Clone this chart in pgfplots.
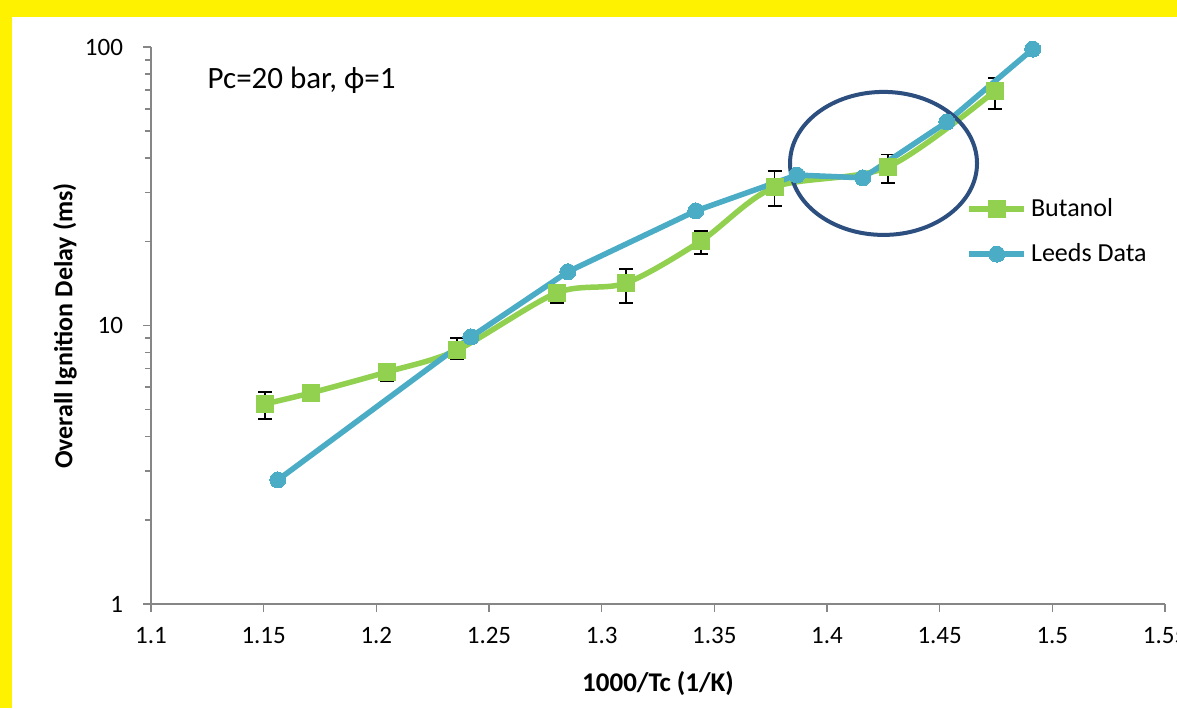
\documentclass[border=0pt]{standalone}
\usepackage{pgfplots}
\pgfplotsset{compat=1.18}
\usepackage{fontspec}
\setmainfont{Carlito}
\definecolor{bgreen}{HTML}{92D050}
\definecolor{lblue}{HTML}{4BACC6}
\definecolor{ellblue}{HTML}{2C4F7F}
\definecolor{axgray}{HTML}{868686}
\begin{document}
\begin{tikzpicture}
\useasboundingbox (0,0) rectangle (588.5pt,354pt);
\fill[yellow] (0,0) rectangle (588.5pt,354pt);
\fill[white] (6pt,0) rectangle (588.5pt,345.5pt);
\begin{axis}[
  at={(75.5pt,52pt)}, anchor=south west,
  scale only axis, width=507pt, height=278.5pt,
  ymode=log, xmin=1.1, xmax=1.55, ymin=1, ymax=100,
  axis x line=bottom, axis y line=left,
  axis line style={-, axgray, line width=0.8pt},
  every tick/.style={axgray, line width=0.8pt},
  tick align=outside, major tick length=4pt, minor tick length=3pt,
  xtick={1.1,1.15,...,1.56},
  xticklabel style={/pgf/number format/fixed,/pgf/number format/precision=2, font=\fontsize{12.5}{14}\selectfont, yshift=-4pt},
  /pgf/number format/assume math mode=true,
  ytick={1,10,100}, yticklabels={1,10,100},
  yticklabel style={font=\fontsize{12.5}{14}\selectfont, xshift=-6.5pt},
  xlabel={\bfseries 1000/Tc (1/K)},
  ylabel={\bfseries Overall Ignition Delay (ms)},
  xlabel style={at={(axis description cs:0.5,-0.142)}, anchor=center, font=\fontsize{13.5}{15}\selectfont},
  ylabel style={at={(axis description cs:-0.0848,0.499)}, anchor=center, rotate=0, font=\fontsize{13}{15}\selectfont},
  legend style={draw=none, fill=none, at={(0.798,0.743)}, anchor=north west, font=\fontsize{13}{15}\selectfont, row sep=8pt},
  legend cell align=left,
  legend image code/.code={\draw[#1, mark repeat=2, mark phase=2] plot coordinates {(0pt,0pt) (13.75pt,0pt) (27.5pt,0pt)};},
  clip=false,
]
\addplot[bgreen, line width=2.75pt, smooth, tension=0.5, mark=square*, mark size=4.25pt, mark options={solid, fill=bgreen, draw=bgreen, line width=0pt},
  error bars/.cd, y dir=both, y explicit,
  error bar style={black, line width=0.75pt, solid},
  error mark options={rotate=90, black, mark size=3.5pt, line width=0.75pt}]
  table[x=x, y=y, y error plus=ep, y error minus=em] {
  x      y     ep    em
  1.1506 5.23  0.54  0.62
  1.1710 5.73  0     0
  1.2047 6.81  0.47  0.49
  1.2358 8.16  0.86  0.57
  1.2801 13.1  0.6   1.05
  1.3107 14.2  1.76  2.15
  1.3440 20.1  1.7   2.0
  1.3768 31.4  4.5   4.5
  1.4270 37.1  4.0   4.6
  1.4745 69.5  7.9   9.6
  };
\addlegendentry{Butanol}
\addplot[lblue, line width=2.75pt, mark=*, mark size=4pt, mark options={solid, fill=lblue, draw=lblue, line width=0pt}]
  coordinates {
  (1.1563,2.79) (1.2420,9.1) (1.2850,15.6) (1.3418,25.8)
  (1.3866,34.7) (1.4159,33.9) (1.4532,53.8) (1.4913,98.3)
  };
\addlegendentry{Leeds Data}
\draw[ellblue, line width=2pt] (axis description cs:0.7224,0.791) ellipse [x radius=46.75pt, y radius=35.75pt];
\node[anchor=west, font=\fontsize{15.5}{17}\selectfont] at (axis description cs:0.049,0.941) {Pc=20 bar, ϕ=1};
\end{axis}
\end{tikzpicture}
\end{document}
